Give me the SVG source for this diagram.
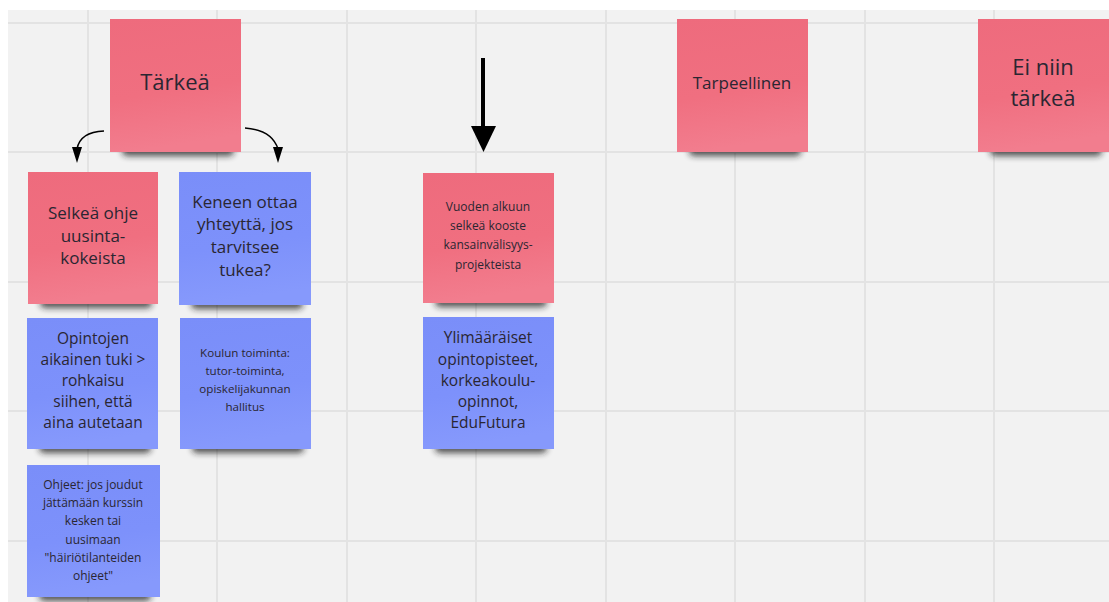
<svg xmlns="http://www.w3.org/2000/svg" width="1109" height="602" viewBox="0 0 1109 602">
<defs>
<linearGradient id="gPink" x1="0" y1="0" x2="0.15" y2="1">
<stop offset="0" stop-color="#ee6b7d"/>
<stop offset="0.6" stop-color="#f06f80"/>
<stop offset="1" stop-color="#f27d8e"/>
</linearGradient>
<linearGradient id="gBlue" x1="0" y1="0" x2="0.15" y2="1">
<stop offset="0" stop-color="#7a8ef9"/>
<stop offset="0.6" stop-color="#7d91fb"/>
<stop offset="1" stop-color="#8699fc"/>
</linearGradient>
<filter id="blur" x="-20%" y="-100%" width="140%" height="300%">
<feGaussianBlur stdDeviation="3"/>
</filter>
</defs>
<style>
.grid line{stroke:#e3e3e3;stroke-width:2}
.shadow{fill:#1a1a1a;opacity:0.75;filter:url(#blur)}
.pink{fill:url(#gPink)}
.blue{fill:url(#gBlue)}
text{font-family:"Open Sans","Noto Sans","DejaVu Sans",sans-serif;fill:#2a2632;text-anchor:middle}
.t22{font-size:22px}
.t17{font-size:17px}
.t16{font-size:16px}
.t15{font-size:15.5px}
.t12{font-size:12px}
.t11{font-size:11.6px}
.line{fill:none;stroke:#000}
.head{fill:#000;stroke:none}
</style>
<rect x="0" y="0" width="1109" height="602" fill="#ffffff"/>
<rect x="8" y="10" width="1101" height="592" fill="#f2f2f2"/>
<g class="grid">
<line x1="88" y1="10" x2="88" y2="602"/>
<line x1="217" y1="10" x2="217" y2="602"/>
<line x1="347" y1="10" x2="347" y2="602"/>
<line x1="476" y1="10" x2="476" y2="602"/>
<line x1="606" y1="10" x2="606" y2="602"/>
<line x1="735" y1="10" x2="735" y2="602"/>
<line x1="865" y1="10" x2="865" y2="602"/>
<line x1="994" y1="10" x2="994" y2="602"/>
<line x1="8" y1="23" x2="1109" y2="23"/>
<line x1="8" y1="152" x2="1109" y2="152"/>
<line x1="8" y1="282" x2="1109" y2="282"/>
<line x1="8" y1="411" x2="1109" y2="411"/>
<line x1="8" y1="541" x2="1109" y2="541"/>
</g>

<g id="n-tarkea">
<rect class="shadow" x="122" y="146" width="112" height="10" rx="5"/>
<rect class="pink" x="110" y="19" width="131" height="133"/>
<text class="t22" x="175" y="90">Tärkeä</text>
</g>
<g id="n-tarpeellinen">
<rect class="shadow" x="689" y="146" width="112" height="10" rx="5"/>
<rect class="pink" x="677" y="19" width="131" height="133"/>
<text class="t17" x="742" y="89">Tarpeellinen</text>
</g>
<g id="n-ei-niin">
<rect class="shadow" x="990" y="146" width="112" height="10" rx="5"/>
<rect class="pink" x="978" y="19" width="131" height="133"/>
<text class="t22" x="1043" y="75">Ei niin</text>
<text class="t22" x="1043" y="106">tärkeä</text>
</g>
<g id="n-selkea">
<rect class="shadow" x="40" y="298" width="112" height="10" rx="5"/>
<rect class="pink" x="28" y="172" width="130" height="132"/>
<text class="t17" x="93" y="219">Selkeä ohje</text>
<text class="t17" x="93" y="242">uusinta-</text>
<text class="t17" x="93" y="264">kokeista</text>
</g>
<g id="n-keneen">
<rect class="shadow" x="191" y="299" width="112" height="10" rx="5"/>
<rect class="blue" x="179" y="172" width="132" height="133"/>
<text class="t17" x="245" y="208">Keneen ottaa</text>
<text class="t17" x="245" y="230">yhteyttä, jos</text>
<text class="t17" x="245" y="253">tarvitsee</text>
<text class="t17" x="245" y="276">tukea?</text>
</g>
<g id="n-opintojen">
<rect class="shadow" x="39" y="443" width="112" height="10" rx="5"/>
<rect class="blue" x="27" y="318" width="131" height="131"/>
<text class="t15" x="93" y="344">Opintojen</text>
<text class="t15" x="93" y="365">aikainen tuki &gt;</text>
<text class="t15" x="93" y="386">rohkaisu</text>
<text class="t15" x="93" y="407">siihen, että</text>
<text class="t15" x="93" y="428">aina autetaan</text>
</g>
<g id="n-koulun">
<rect class="shadow" x="192" y="443" width="112" height="10" rx="5"/>
<rect class="blue" x="180" y="318" width="131" height="131"/>
<text class="t11" x="245" y="357">Koulun toiminta:</text>
<text class="t11" x="245" y="375">tutor-toiminta,</text>
<text class="t11" x="245" y="393">opiskelijakunnan</text>
<text class="t11" x="245" y="411">hallitus</text>
</g>
<g id="n-ohjeet">
<rect class="shadow" x="39" y="591" width="112" height="10" rx="5"/>
<rect class="blue" x="27" y="465" width="133" height="132"/>
<text class="t12" x="93" y="489">Ohjeet: jos joudut</text>
<text class="t12" x="93" y="507">jättämään kurssin</text>
<text class="t12" x="93" y="525">kesken tai</text>
<text class="t12" x="93" y="544">uusimaan</text>
<text class="t12" x="93" y="562">"häiriötilanteiden</text>
<text class="t12" x="93" y="580">ohjeet"</text>
</g>
<g id="n-vuoden">
<rect class="shadow" x="435" y="297" width="112" height="10" rx="5"/>
<rect class="pink" x="423" y="173" width="131" height="130"/>
<text class="t12" x="488" y="211">Vuoden alkuun</text>
<text class="t12" x="488" y="230">selkeä kooste</text>
<text class="t12" x="488" y="249">kansainvälisyys-</text>
<text class="t12" x="488" y="269">projekteista</text>
</g>
<g id="n-ylimaaraiset">
<rect class="shadow" x="435" y="443" width="112" height="10" rx="5"/>
<rect class="blue" x="423" y="317" width="131" height="132"/>
<text class="t15" x="488" y="343">Ylimääräiset</text>
<text class="t15" x="488" y="365">opintopisteet,</text>
<text class="t15" x="488" y="386">korkeakoulu-</text>
<text class="t15" x="488" y="407">opinnot,</text>
<text class="t15" x="488" y="428">EduFutura</text>
</g>

<g id="connectors">
<path class="line" d="M104,131 Q80,132 77,149" stroke-width="1.5"/>
<path class="head" d="M72,147 L82,147 L77,163 Z"/>
<path class="line" d="M245,128 Q272,130 278,149" stroke-width="1.5"/>
<path class="head" d="M273,147 L283,147 L278,163 Z"/>
<path class="line" d="M483,58 L483,128" stroke-width="4"/>
<path class="head" d="M471,126 L496,126 L483.5,152 Z"/>
</g>
</svg>
